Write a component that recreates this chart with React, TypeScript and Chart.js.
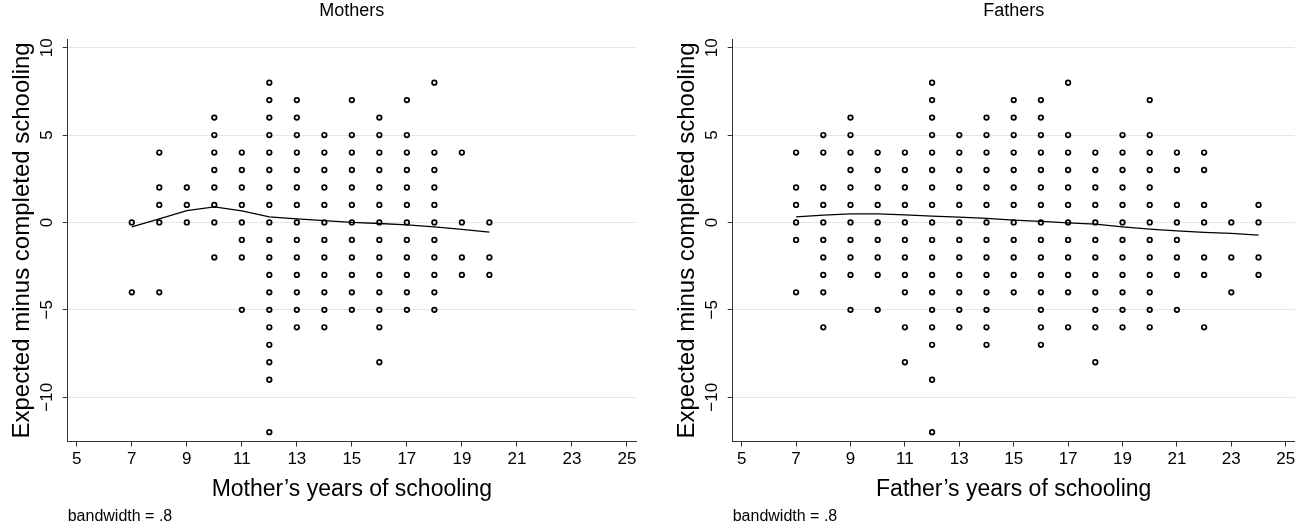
import React, { useEffect, useRef } from "react";
import { Chart, registerables } from "chart.js";

Chart.register(...registerables);

// ---------- data ----------
const motherYears = [7, 8, 9, 10, 11, 12, 13, 14, 15, 16, 17, 18, 19, 20];
const motherGaps = [
  [0, -4],
  [4, 2, 1, 0, -4],
  [2, 1, 0],
  [6, 5, 4, 3, 2, 1, 0, -2],
  [4, 3, 2, 1, 0, -1, -2, -5],
  [8, 7, 6, 5, 4, 3, 2, 1, 0, -1, -2, -3, -4, -5, -6, -7, -8, -9, -12],
  [7, 6, 5, 4, 3, 2, 1, 0, -1, -2, -3, -4, -5, -6],
  [5, 4, 3, 2, 1, 0, -1, -2, -3, -4, -5, -6],
  [7, 5, 4, 3, 2, 1, 0, -1, -2, -3, -4, -5],
  [6, 5, 4, 3, 2, 1, 0, -1, -2, -3, -4, -5, -6, -8],
  [7, 5, 4, 3, 2, 1, 0, -1, -2, -3, -4, -5],
  [8, 4, 3, 2, 1, 0, -1, -2, -3, -4, -5],
  [4, 0, -2, -3],
  [0, -2, -3],
];
const motherSmooth = [-0.25, 0.2, 0.68, 0.89, 0.66, 0.32, 0.2, 0.1, 0.0, -0.06, -0.14, -0.25, -0.4, -0.55];

const fatherYears = [7, 8, 9, 10, 11, 12, 13, 14, 15, 16, 17, 18, 19, 20, 21, 22, 23, 24];
const fatherGaps = [
  [4, 2, 1, 0, -1, -4],
  [5, 4, 2, 1, 0, -1, -2, -3, -4, -6],
  [6, 5, 4, 3, 2, 1, 0, -1, -2, -3, -5],
  [4, 3, 2, 1, 0, -1, -2, -3, -5],
  [4, 3, 2, 1, 0, -1, -2, -3, -4, -6, -8],
  [8, 7, 6, 5, 4, 3, 2, 1, 0, -1, -2, -3, -4, -5, -6, -7, -9, -12],
  [5, 4, 3, 2, 1, 0, -1, -2, -3, -4, -5, -6],
  [6, 5, 4, 3, 2, 1, 0, -1, -2, -3, -4, -5, -6, -7],
  [7, 6, 5, 4, 3, 2, 1, 0, -1, -2, -3, -4],
  [7, 6, 5, 4, 3, 2, 1, 0, -1, -2, -3, -4, -5, -6, -7],
  [8, 5, 4, 3, 2, 1, 0, -1, -2, -3, -4, -6],
  [4, 3, 2, 1, 0, -1, -2, -3, -4, -5, -6, -8],
  [5, 4, 3, 2, 1, 0, -1, -2, -3, -4, -5, -6],
  [7, 5, 4, 3, 2, 1, 0, -1, -2, -3, -4, -5, -6],
  [4, 3, 1, 0, -1, -2, -3, -5],
  [4, 3, 1, 0, -2, -3, -6],
  [0, -2, -4],
  [1, 0, -2, -3],
];
const fatherSmooth = [0.32, 0.42, 0.49, 0.49, 0.43, 0.36, 0.3, 0.23, 0.13, 0.06, -0.02, -0.1, -0.25, -0.38, -0.48, -0.57, -0.63, -0.73];

const xTickValues = [5, 7, 9, 11, 13, 15, 17, 19, 21, 23, 25];
const yTickValues = [-10, -5, 0, 5, 10];
const panelTitles = ["Mothers", "Fathers"];
const xAxisTitles = ["Mother\u2019s years of schooling", "Father\u2019s years of schooling"];
const yAxisTitle = "Expected minus completed schooling";
const noteText = "bandwidth = .8";

const FONT = "'Liberation Sans', Arial, Helvetica, sans-serif";

type PanelProps = {
  years: number[];
  gaps: number[][];
  smooth: number[];
  title: string;
  xTitle: string;
  width: number;
  padLeft: number;
  padRight: number;
};

function Panel({ years, gaps, smooth, title, xTitle, width, padLeft, padRight }: PanelProps) {
  const ref = useRef<HTMLCanvasElement | null>(null);
  useEffect(() => {
    if (!ref.current) return;
    const points = years.flatMap((x, i) => gaps[i].map((y) => ({ x, y })));
    const line = years.map((x, i) => ({ x, y: smooth[i] }));
    const chart = new Chart(ref.current, {
      type: "scatter",
      data: {
        datasets: [
          {
            data: line,
            showLine: true,
            borderColor: "#000",
            borderWidth: 1.3,
            pointRadius: 0,
            tension: 0,
            fill: false,
            order: 0,
          } as any,
          {
            data: points,
            pointStyle: "circle",
            pointRadius: 2.3,
            borderWidth: 1.7,
            borderColor: "#000",
            backgroundColor: "rgba(0,0,0,0)",
            order: 1,
          } as any,
        ],
      },
      options: {
        animation: false,
        responsive: false,
        maintainAspectRatio: false,
        events: [],
        layout: { padding: { left: padLeft, right: padRight, top: 0, bottom: 0 } },
        plugins: {
          legend: { display: false },
          tooltip: { enabled: false },
          title: {
            display: true,
            text: title,
            fullSize: false,
            color: "#000",
            font: { size: 18, weight: "normal", family: FONT },
            padding: { top: 0.5, bottom: 17.2 },
          },
          subtitle: {
            display: true,
            text: noteText,
            position: "bottom",
            align: "start",
            fullSize: false,
            color: "#000",
            font: { size: 16, weight: "normal", family: FONT },
            padding: { top: 3, bottom: 1.2 },
          },
        },
        scales: {
          x: {
            type: "linear",
            min: 4.67,
            max: 25.33,
            afterBuildTicks: (s: any) => {
              s.ticks = xTickValues.map((v) => ({ value: v }));
            },
            afterFit: (s: any) => {
              s.height = 62;
            },
            grid: { drawOnChartArea: false, drawTicks: true, tickLength: 5, tickColor: "#333" },
            border: { display: true, color: "#333", width: 1 },
            ticks: {
              autoSkip: false,
              maxRotation: 0,
              color: "#000",
              padding: 3,
              font: { size: 17, family: FONT },
              callback: (v: any) => String(v),
            },
            title: {
              display: true,
              text: xTitle,
              color: "#000",
              font: { size: 23, family: FONT },
              padding: { top: 0, bottom: 0.4 },
            },
          },
          y: {
            type: "linear",
            min: -12.54,
            max: 10.48,
            afterBuildTicks: (s: any) => {
              s.ticks = yTickValues.map((v) => ({ value: v }));
            },
            afterFit: (s: any) => {
              s.width = 67.7;
            },
            grid: { color: "#e6e6e6", lineWidth: 1, drawTicks: true, tickLength: 5, tickColor: "#333" },
            border: { display: true, color: "#333", width: 1 },
            ticks: {
              autoSkip: false,
              minRotation: 90,
              maxRotation: 90,
              crossAlign: "center",
              color: "#000",
              padding: 0.6,
              font: { size: 17, family: FONT },
              callback: (v: any) => (v < 0 ? "\u2212" + Math.abs(v) : String(v)),
            },
            title: {
              display: true,
              text: yAxisTitle,
              color: "#000",
              font: { size: 24, family: FONT },
              padding: { top: 7.6, bottom: 0 },
            },
          },
        },
      } as any,
    });
    return () => chart.destroy();
  }, [years, gaps, smooth, title, xTitle, width, padLeft, padRight]);
  return <canvas ref={ref} width={width} height={527} style={{ display: "block", width, height: 527 }} />;
}

export default function App() {
  return (
    <div style={{ position: "absolute", left: 0, top: 0, width: 1307, height: 527, display: "flex", background: "#fff" }}>
      <Panel
        years={motherYears}
        gaps={motherGaps}
        smooth={motherSmooth}
        title={panelTitles[0]}
        xTitle={xAxisTitles[0]}
        width={653}
        padLeft={0}
        padRight={17}
      />
      <Panel
        years={fatherYears}
        gaps={fatherGaps}
        smooth={fatherSmooth}
        title={panelTitles[1]}
        xTitle={xAxisTitles[1]}
        width={654}
        padLeft={12}
        padRight={12.3}
      />
    </div>
  );
}
